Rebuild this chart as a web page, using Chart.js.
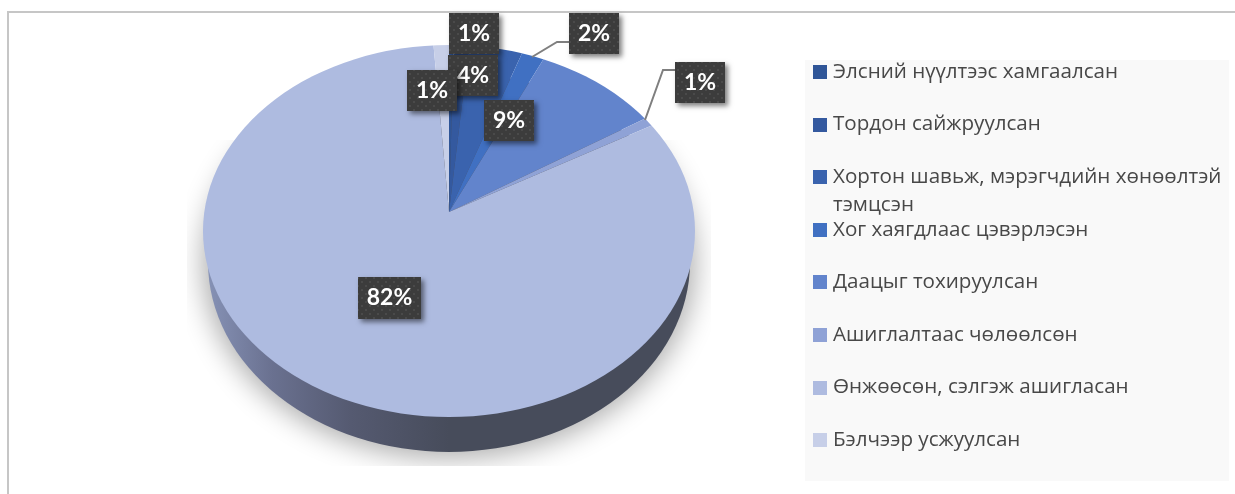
<!DOCTYPE html>
<html lang="mn">
<head>
<meta charset="utf-8">
<title>Бэлчээр</title>
<script src="https://cdn.jsdelivr.net/npm/chart.js@4"></script>
<style>
  html,body{margin:0;padding:0;background:#fff;overflow:hidden}
  #wrap{position:relative;width:1235px;height:494px}
</style>
</head>
<body>
<div id="wrap"><canvas id="chart"></canvas></div>
<script>
(function(){
  "use strict";
  const LABELS=["Элсний нүүлтээс хамгаалсан","Тордон сайжруулсан","Хортон шавьж, мэрэгчдийн хөнөөлтэй тэмцсэн","Хог хаягдлаас цэвэрлэсэн","Даацыг тохируулсан","Ашиглалтаас чөлөөлсөн","Өнжөөсөн, сэлгэж ашигласан","Бэлчээр усжуулсан"];
  const VALUES=[0.3,1,3.5,1.5,8.9,0.8,82.49,1];
  const COLORS=["#2F5597","#34599F","#3A63AE","#4070C2","#6284CC","#8FA2D6","#AEBBE0","#C7CFE8"];

  // placement of the hand-moved labels, same order as VALUES
  const BOXES=[null,[449,13,50,41],[448,55,50,41],[569,13,50,41],[484,100,50,41],[675,62,50,41],[358,277,63,42],[407,70,50,41]];
  const LEADERS=[[[532,57],[557,42],[569,42]],[[645,120],[663,70],[675,70]]];

  const APEX_Y=212, FLAT=0.68;
  const TOP={x:449,y:231,rx:246,ry:186};
  const BASE={x:449,y:262,rx:241,ry:190};
  const LEGEND={x:805,y:60,w:424,h:421,boxX:813,boxY:65,box:14,textX:833,step:52.6,lineH:28,maxW:395};
  const FONT_LEGEND='20.6px "Open Sans", "Noto Sans", sans-serif';
  const FONT_LABEL='bold 23px Lato, "Open Sans", sans-serif';

  function dotPattern(ctx){
    const c=document.createElement("canvas"); c.width=8; c.height=8;
    const g=c.getContext("2d");
    g.fillStyle="#3C3C3C"; g.fillRect(0,0,8,8);
    g.fillStyle="#4A4A4A"; g.fillRect(1,1,2,2); g.fillRect(5,5,2,2);
    return ctx.createPattern(c,"repeat");
  }

  function drawShadow(ctx){
    ctx.save();
    ctx.beginPath(); ctx.rect(187,140,524,326); ctx.clip();
    ctx.shadowColor="rgba(0,0,0,.33)";
    ctx.shadowBlur=28;
    ctx.shadowOffsetX=3000;
    ctx.fillStyle="#000";
    ctx.beginPath();
    ctx.ellipse(449-3000,262,246,196,0,0,Math.PI*2);
    ctx.fill();
    ctx.restore();
  }

  function drawSide(ctx){
    const g=ctx.createLinearGradient(203,0,449,0);
    g.addColorStop(0,"#8894B8");
    g.addColorStop(.28,"#6A7190");
    g.addColorStop(.6,"#555A71");
    g.addColorStop(1,"#474C5B");
    ctx.save();
    ctx.fillStyle=g;
    ctx.beginPath();
    ctx.ellipse(BASE.x,BASE.y,BASE.rx,BASE.ry,0,0,Math.PI*2);
    ctx.fill();
    ctx.restore();
  }

  const tiltedPie={
    id:"tiltedPie",
    beforeDraw(chart){
      const ctx=chart.ctx;
      ctx.save();
      ctx.fillStyle="#C6C6C6";
      ctx.fillRect(7,11,1228,2);
      ctx.fillRect(7,11,2,483);
      ctx.fillStyle="#F9F9F9";
      ctx.fillRect(LEGEND.x,LEGEND.y,LEGEND.w,LEGEND.h);
      ctx.restore();
    },
    beforeDatasetsDraw(chart){
      const ctx=chart.ctx, meta=chart.getDatasetMeta(0), cy=meta.data[0].y;
      drawShadow(ctx);
      drawSide(ctx);
      ctx.save();
      ctx.beginPath();
      ctx.ellipse(TOP.x,TOP.y,TOP.rx,TOP.ry,0,0,Math.PI*2);
      ctx.clip();
      ctx.translate(0,APEX_Y);
      ctx.scale(1,FLAT);
      ctx.translate(0,-cy);
      meta.controller.draw();
      ctx.restore();
      return false;
    },
    afterDraw(chart){
      const ctx=chart.ctx;
      // leader lines
      ctx.save();
      ctx.strokeStyle="#7F7F7F"; ctx.lineWidth=2;
      LEADERS.forEach(pts=>{
        ctx.beginPath();
        pts.forEach((p,i)=>i?ctx.lineTo(p[0],p[1]):ctx.moveTo(p[0],p[1]));
        ctx.stroke();
      });
      ctx.restore();

      // data labels
      const pat=dotPattern(ctx);
      VALUES.forEach((v,i)=>{
        const b=BOXES[i]; if(!b) return;
        ctx.save();
        ctx.shadowColor="rgba(0,0,0,.5)"; ctx.shadowBlur=5; ctx.shadowOffsetX=3; ctx.shadowOffsetY=3;
        ctx.fillStyle="#3C3C3C";
        ctx.fillRect(b[0],b[1],b[2],b[3]);
        ctx.shadowColor="transparent";
        ctx.fillStyle=pat;
        ctx.fillRect(b[0],b[1],b[2],b[3]);
        ctx.fillStyle="#fff"; ctx.font=FONT_LABEL;
        ctx.textAlign="center"; ctx.textBaseline="middle";
        ctx.fillText(Math.round(v)+"%",b[0]+b[2]/2,b[1]+b[3]/2);
        ctx.restore();
      });

      // legend
      ctx.save();
      ctx.font=FONT_LEGEND; ctx.textBaseline="middle"; ctx.textAlign="left";
      LABELS.forEach((txt,i)=>{
        const y=LEGEND.boxY+LEGEND.step*i;
        ctx.fillStyle=COLORS[i];
        ctx.fillRect(LEGEND.boxX,Math.round(y),LEGEND.box,LEGEND.box);
        ctx.fillStyle="#484848";
        let line="", ly=y+LEGEND.box/2;
        txt.split(" ").forEach(w=>{
          const t=line?line+" "+w:w;
          if(line&&ctx.measureText(t).width>LEGEND.maxW){ctx.fillText(line,LEGEND.textX,ly);ly+=LEGEND.lineH;line=w;}
          else line=t;
        });
        ctx.fillText(line,LEGEND.textX,ly);
      });
      ctx.restore();
    }
  };

  new Chart(document.getElementById("chart"),{
    type:"pie",
    data:{labels:LABELS,datasets:[{data:VALUES,backgroundColor:COLORS,borderWidth:0,radius:320}]},
    options:{
      responsive:true,maintainAspectRatio:false,animation:false,events:[],
      layout:{padding:{right:337}},
      plugins:{legend:{display:false},tooltip:{enabled:false}}
    },
    plugins:[tiltedPie]
  });
})();
</script>
</body>
</html>
